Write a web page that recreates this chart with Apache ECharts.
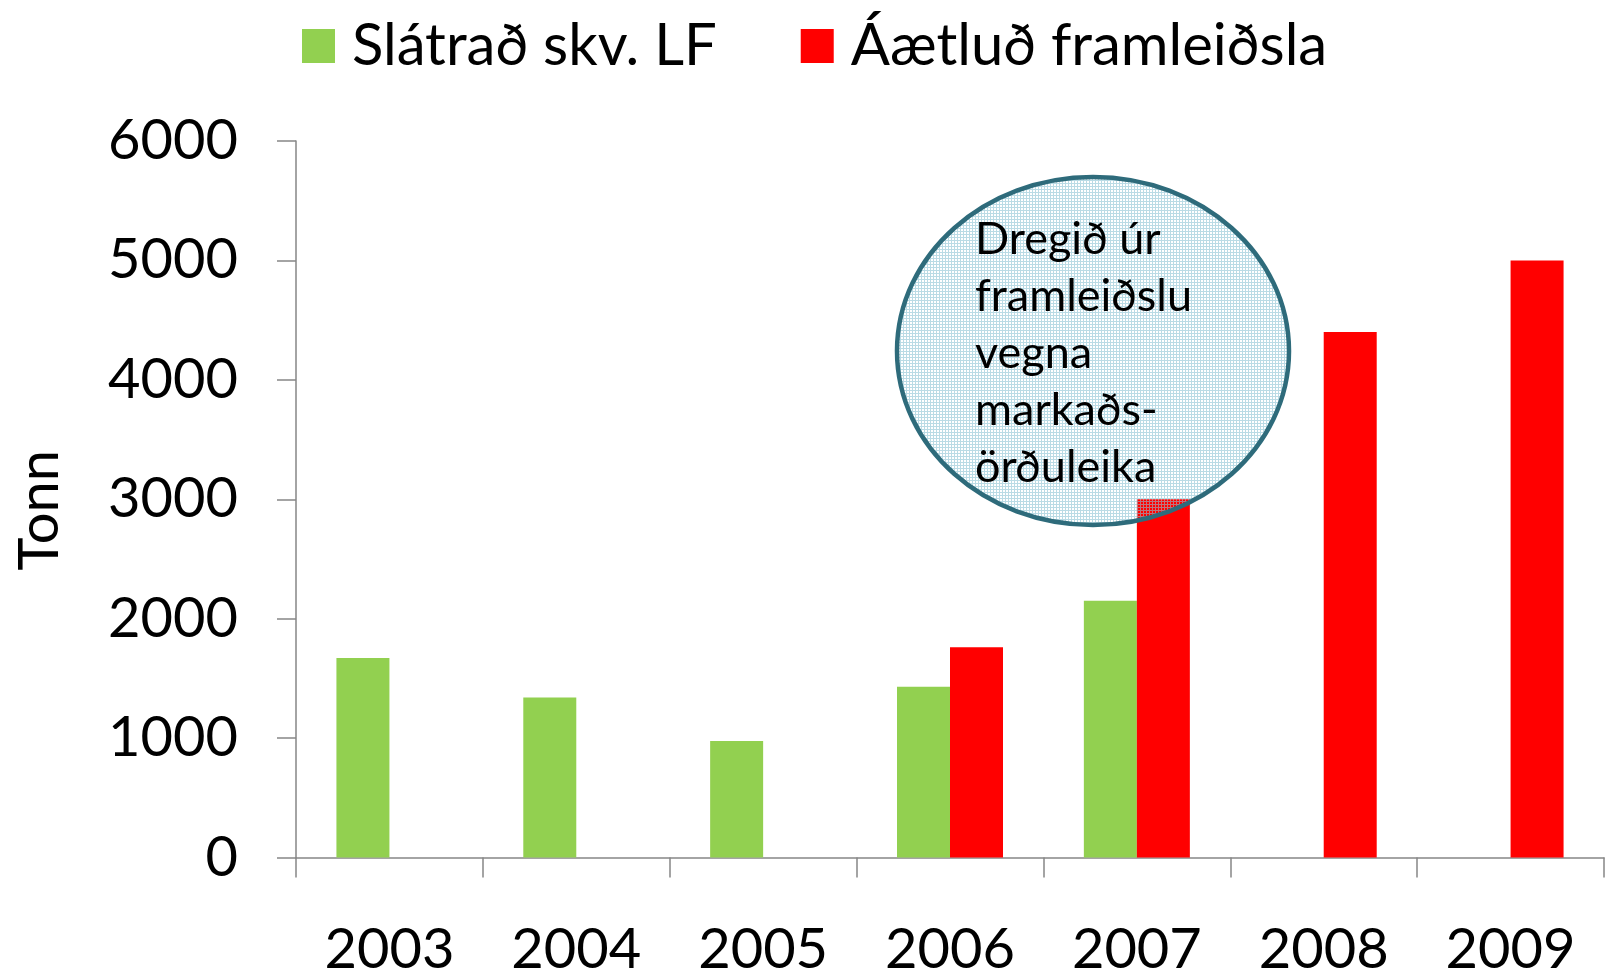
<!DOCTYPE html>
<html>
<head>
<meta charset="utf-8">
<script src="https://cdn.jsdelivr.net/npm/echarts@6/dist/echarts.min.js"></script>
<style>
  html, body { margin: 0; padding: 0; background: #fff; }
  #main { width: 1610px; height: 979px; }
</style>
</head>
<body>
<div id="main"></div>
<script>
// gögn lesin af myndinni
var years = ['2003', '2004', '2005', '2006', '2007', '2008', '2009'];
var slatrad = [1670, 1340, 975, 1430, 2150, null, null];
var aaetlud = [null, null, null, 1760, 3000, 4400, 5000];
var yTicks = [0, 1000, 2000, 3000, 4000, 5000, 6000];
var seriesNames = ['Slátrað skv. LF', 'Áætluð framleiðsla'];
var bubbleLines = ['Dregið úr', 'framleiðslu', 'vegna', 'markaðs-', 'örðuleika'];

var font = 'Lato';

// punktamynstur í kúlunni
var pat = document.createElement('canvas');
pat.width = 3;
pat.height = 3;
var pc = pat.getContext('2d');
pc.fillStyle = 'rgba(140,195,212,0.6)';
pc.fillRect(0, 0, 3, 1);
pc.fillRect(0, 1, 1, 2);

var myChart = echarts.init(document.getElementById('main'));

var option = {
    backgroundColor: '#fff',
    animation: false,
    legend: {
        data: seriesNames,
        left: 302,
        top: 17,
        padding: 0,
        icon: 'rect',
        itemWidth: 33,
        itemHeight: 34,
        itemGap: 84,
        textStyle: {
            fontFamily: font,
            fontSize: 58,
            color: '#000',
            padding: [0, 0, 0, 12]
        }
    },
    grid: {
        left: 296,
        right: 6,
        top: 141,
        bottom: 121.5,
        containLabel: false
    },
    xAxis: {
        type: 'category',
        data: years,
        axisLine: { lineStyle: { color: '#868686', width: 1.5 } },
        axisTick: { show: true, length: 20, lineStyle: { color: '#868686', width: 1.5 } },
        axisLabel: {
            margin: 64,
            fontFamily: font,
            fontSize: 56,
            color: '#000'
        }
    },
    yAxis: {
        type: 'value',
        min: yTicks[0],
        max: yTicks[yTicks.length - 1],
        interval: 1000,
        name: 'Tonn',
        nameLocation: 'middle',
        nameRotate: 90,
        nameGap: 228,
        nameTextStyle: {
            fontFamily: font,
            fontSize: 56,
            color: '#000',
            padding: [0, 22, 0, 0]
        },
        axisLine: { show: true, lineStyle: { color: '#868686', width: 1.5 } },
        axisTick: { show: true, length: 19, lineStyle: { color: '#868686', width: 1.5 } },
        splitLine: { show: false },
        axisLabel: {
            margin: 58,
            fontFamily: font,
            fontSize: 56,
            color: '#000',
            formatter: function (v) { return String(v); }
        }
    },
    series: [
        {
            name: seriesNames[0],
            type: 'bar',
            data: slatrad,
            barWidth: 53,
            barGap: '0%',
            itemStyle: { color: '#92D050' }
        },
        {
            name: seriesNames[1],
            type: 'bar',
            data: aaetlud,
            barWidth: 53,
            barGap: '0%',
            itemStyle: { color: '#FF0000' }
        }
    ],
    graphic: [
        {
            type: 'ellipse',
            z: 100,
            shape: { cx: 1093, cy: 351, rx: 196, ry: 174 },
            style: {
                fill: { image: pat, repeat: 'repeat' },
                stroke: '#2e6b7b',
                lineWidth: 4.5
            }
        },
        {
            type: 'text',
            z: 101,
            left: 975,
            top: 211,
            style: {
                text: bubbleLines.join('\n'),
                fontFamily: font,
                fontSize: 45,
                lineHeight: 57,
                fill: '#000'
            }
        }
    ]
};

myChart.setOption(option);
</script>
</body>
</html>
